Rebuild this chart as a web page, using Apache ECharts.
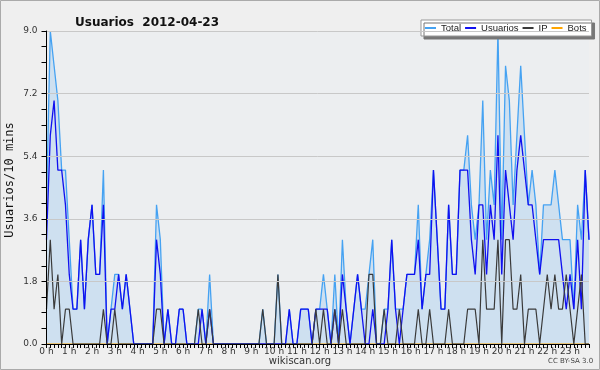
<!DOCTYPE html>
<html>
<head>
<meta charset="utf-8">
<script src="https://cdn.jsdelivr.net/npm/echarts@6/dist/echarts.min.js"></script>
<style>
  html, body { margin: 0; padding: 0; background: #efefef; }
  #chart { width: 600px; height: 370px; }
</style>
</head>
<body>
<div id="chart"></div>
<script>
// Usuarios por tramo de 10 minutos (144 tramos)
var hourLabels = ['0 h', '1 h', '2 h', '3 h', '4 h', '5 h', '6 h', '7 h', '8 h', '9 h', '10 h', '11 h',
                  '12 h', '13 h', '14 h', '15 h', '16 h', '17 h', '18 h', '19 h', '20 h', '21 h', '22 h', '23 h'];

var total = [
  4, 9, 8, 7, 5, 5, 3, 1, 1, 3,
  1, 3, 4, 2, 2, 5, 0, 1, 2, 2,
  1, 2, 1, 0, 0, 0, 0, 0, 0, 4,
  3, 0, 1, 0, 0, 1, 1, 0, 0, 0,
  1, 1, 0, 2, 0, 0, 0, 0, 0, 0,
  0, 0, 0, 0, 0, 0, 0, 1, 0, 0,
  0, 2, 0, 0, 1, 0, 0, 1, 1, 1,
  0, 1, 1, 2, 1, 0, 2, 0, 3, 1,
  0, 1, 2, 1, 1, 2, 3, 0, 0, 1,
  1, 3, 1, 1, 1, 2, 2, 2, 4, 1,
  2, 3, 5, 3, 1, 1, 4, 2, 2, 5,
  5, 6, 4, 3, 4, 7, 3, 5, 4, 9,
  3, 8, 7, 4, 6, 8, 6, 4, 5, 4,
  2, 4, 4, 4, 5, 4, 3, 3, 3, 1,
  4, 3, 5, 3
];

var usuarios = [
  3, 6, 7, 5, 5, 4, 2, 1, 1, 3,
  1, 3, 4, 2, 2, 4, 0, 1, 1, 2,
  1, 2, 1, 0, 0, 0, 0, 0, 0, 3,
  2, 0, 1, 0, 0, 1, 1, 0, 0, 0,
  0, 1, 0, 1, 0, 0, 0, 0, 0, 0,
  0, 0, 0, 0, 0, 0, 0, 0, 0, 0,
  0, 0, 0, 0, 1, 0, 0, 1, 1, 1,
  0, 1, 1, 1, 1, 0, 1, 0, 2, 1,
  0, 1, 2, 1, 0, 0, 1, 0, 0, 0,
  1, 3, 1, 0, 1, 2, 2, 2, 3, 1,
  2, 2, 5, 3, 1, 1, 4, 2, 2, 5,
  5, 5, 3, 2, 4, 4, 2, 4, 3, 6,
  2, 5, 4, 3, 5, 6, 5, 4, 4, 3,
  2, 3, 3, 3, 3, 3, 2, 1, 2, 1,
  3, 1, 5, 3
];

var ip = [
  1, 3, 1, 2, 0, 1, 1, 0, 0, 0,
  0, 0, 0, 0, 0, 1, 0, 0, 1, 0,
  0, 0, 0, 0, 0, 0, 0, 0, 0, 1,
  1, 0, 0, 0, 0, 0, 0, 0, 0, 0,
  1, 0, 0, 1, 0, 0, 0, 0, 0, 0,
  0, 0, 0, 0, 0, 0, 0, 1, 0, 0,
  0, 2, 0, 0, 0, 0, 0, 0, 0, 0,
  0, 1, 0, 1, 0, 0, 1, 0, 1, 0,
  0, 0, 0, 0, 0, 2, 2, 0, 0, 1,
  0, 0, 0, 1, 0, 0, 0, 0, 1, 0,
  0, 1, 0, 0, 0, 0, 1, 0, 0, 0,
  0, 1, 1, 1, 0, 3, 1, 1, 1, 3,
  0, 3, 3, 1, 1, 2, 0, 1, 1, 1,
  0, 1, 2, 1, 2, 1, 1, 2, 1, 0,
  1, 2, 0, 0
];

var bots = [
  0, 0, 0, 0, 0, 0, 0, 0, 0, 0,
  0, 0, 0, 0, 0, 0, 0, 0, 0, 0,
  0, 0, 0, 0, 0, 0, 0, 0, 0, 0,
  0, 0, 0, 0, 0, 0, 0, 0, 0, 0,
  0, 0, 0, 0, 0, 0, 0, 0, 0, 0,
  0, 0, 0, 0, 0, 0, 0, 0, 0, 0,
  0, 0, 0, 0, 0, 0, 0, 0, 0, 0,
  0, 0, 0, 0, 0, 0, 0, 0, 0, 0,
  0, 0, 0, 0, 0, 0, 0, 0, 0, 0,
  0, 0, 0, 0, 0, 0, 0, 0, 0, 0,
  0, 0, 0, 0, 0, 0, 0, 0, 0, 0,
  0, 0, 0, 0, 0, 0, 0, 0, 0, 0,
  0, 0, 0, 0, 0, 0, 0, 0, 0, 0,
  0, 0, 0, 0, 0, 0, 0, 0, 0, 0,
  0, 0, 0, 0
];

var yMax = 9.0;
var yStep = 1.8;

// un slot por punto, las etiquetas salen cada 6 (una hora)
var slots = total.map(function (v, i) { return String(i); });

var font = '"DejaVu Sans", sans-serif';
var legendFont = '"Liberation Sans", Arial, sans-serif';

var chart = echarts.init(document.getElementById('chart'));

var option = {
  backgroundColor: '#efefef',
  animation: false,
  title: {
    text: 'Usuarios  2012-04-23',
    left: 70,
    top: 12,
    textStyle: { fontFamily: font, fontSize: 12, fontWeight: 'bold', color: '#111' }
  },
  legend: {
    left: 421,
    top: 20,
    padding: [3, 5, 3, 4],
    itemWidth: 11,
    itemHeight: 2,
    itemGap: 4,
    backgroundColor: '#ffffff',
    borderColor: '#999',
    borderWidth: 1,
    shadowColor: '#777',
    shadowOffsetX: 3,
    shadowOffsetY: 3,
    shadowBlur: 0,
    textStyle: { fontFamily: legendFont, fontSize: 9.5, color: '#222' },
    data: [
      { name: 'Total', icon: 'rect' },
      { name: 'Usuarios', icon: 'rect' },
      { name: 'IP', icon: 'rect' },
      { name: 'Bots', icon: 'rect' }
    ]
  },
  graphic: [
    { type: 'rect', silent: true, z: 100, shape: { x: 0.5, y: 0.5, width: 599, height: 369 },
      style: { fill: 'none', stroke: '#aaa', lineWidth: 1 } },
    // título del eje Y
    { type: 'text', x: 10, y: 180, rotation: Math.PI / 2, silent: true,
      style: { text: 'Usuarios/10 mins', fontFamily: '"DejaVu Sans Mono", monospace', fontSize: 12,
               fill: '#111', align: 'center', verticalAlign: 'middle' } },
    { type: 'text', x: 300, y: 361, silent: true,
      style: { text: 'wikiscan.org', fontFamily: font, fontSize: 10, fill: '#333',
               align: 'center', verticalAlign: 'middle' } },
    { type: 'text', x: 548, y: 358, silent: true,
      style: { text: 'CC BY-SA 3.0', fontFamily: font, fontSize: 7, fill: '#444' } }
  ],
  grid: {
    left: 46.5,
    right: 11,
    top: 31,
    bottom: 26,
    outerBoundsMode: 'none',
    containLabel: false,
    show: true,
    backgroundColor: '#eceef0',
    borderWidth: 0
  },
  xAxis: {
    type: 'category',
    data: slots,
    boundaryGap: false,
    z: 10,
    axisLine: { lineStyle: { color: '#000', width: 1 } },
    axisTick: { interval: 0, length: 4, lineStyle: { color: '#000' } },
    axisLabel: {
      interval: 5,
      margin: 3,
      fontFamily: font,
      fontSize: 9,
      color: '#333',
      formatter: function (v, i) { return hourLabels[i / 6]; }
    },
    splitLine: { show: false }
  },
  yAxis: {
    type: 'value',
    min: 0,
    max: yMax,
    interval: yStep,
    z: 10,
    axisLine: { show: true, lineStyle: { color: '#000', width: 1 } },
    axisTick: { show: true, length: 5, lineStyle: { color: '#000' } },
    minorTick: { show: true, splitNumber: 4, length: 5, lineStyle: { color: '#000' } },
    splitLine: { lineStyle: { color: '#c8c8c8', width: 1 } },
    axisLabel: {
      margin: 9,
      fontFamily: font,
      fontSize: 9,
      color: '#333',
      formatter: function (v) { return v.toFixed(1); }
    }
  },
  series: [
    {
      name: 'Bots', type: 'line', data: bots, symbol: 'none',
      itemStyle: { color: '#ffa500' }, lineStyle: { color: '#ffa500', width: 1.2 }
    },
    {
      name: 'Total', type: 'line', data: total, symbol: 'none',
      itemStyle: { color: '#45a2f2' }, lineStyle: { color: '#45a2f2', width: 1.3 },
      areaStyle: { color: 'rgba(158,202,240,0.55)' }
    },
    {
      name: 'Usuarios', type: 'line', data: usuarios, symbol: 'none',
      itemStyle: { color: '#1010f0' }, lineStyle: { color: '#1010f0', width: 1.3 }
    },
    {
      name: 'IP', type: 'line', data: ip, symbol: 'none',
      itemStyle: { color: '#3a3a3a' }, lineStyle: { color: '#3a3a3a', width: 1.2 }
    }
  ]
};

chart.setOption(option);
</script>
</body>
</html>
